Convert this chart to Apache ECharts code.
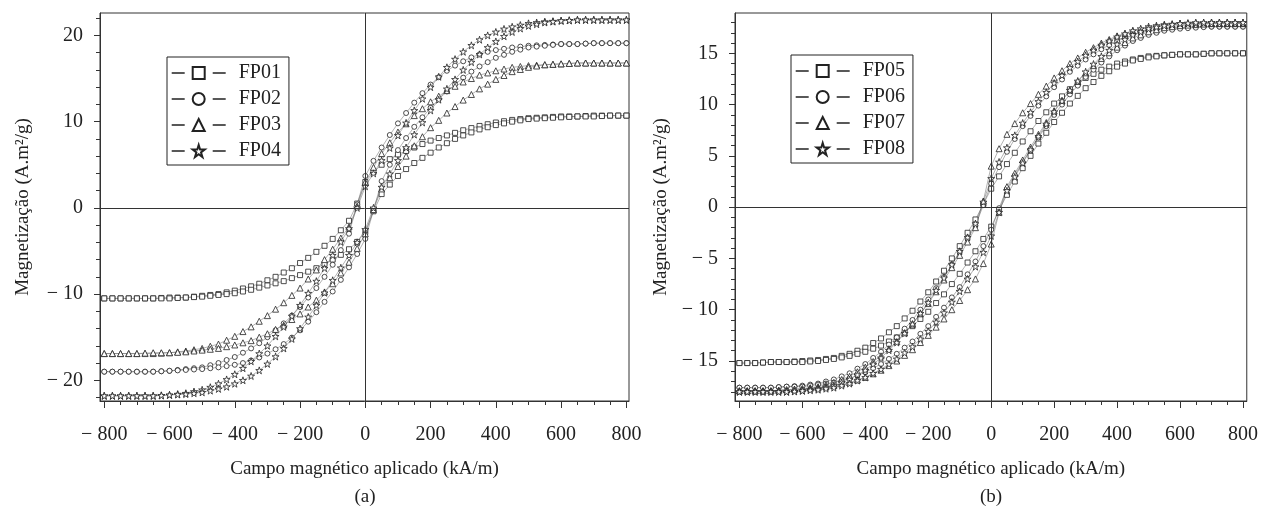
<!DOCTYPE html>
<html>
<head>
<meta charset="utf-8">
<script src="https://cdn.jsdelivr.net/npm/echarts@6/dist/echarts.min.js"></script>
<style>
html,body{margin:0;padding:0;background:#fff;}
#c{width:1261px;height:510px;}
</style>
</head>
<body>
<div id="c"></div>
<script>
// ---------- DATA ----------
// Applied field (kA/m): descending branch and ascending branch
const hDown = [800,775,750,725,700,675,650,625,600,575,550,525,500,475,450,425,400,375,350,325,300,275,250,225,200,175,150,125,100,75,50,25,0,-25,-50,-75,-100,-125,-150,-175,-200,-225,-250,-275,-300,-325,-350,-375,-400,-425,-450,-475,-500,-525,-550,-575,-600,-625,-650,-675,-700,-725,-750,-775,-800];
const hUp = [-800,-775,-750,-725,-700,-675,-650,-625,-600,-575,-550,-525,-500,-475,-450,-425,-400,-375,-350,-325,-300,-275,-250,-225,-200,-175,-150,-125,-100,-75,-50,-25,0,25,50,75,100,125,150,175,200,225,250,275,300,325,350,375,400,425,450,475,500,525,550,575,600,625,650,675,700,725,750,775,800];

// Panel (a)
const fp01Down = [10.7,10.7,10.7,10.7, 10.7,10.65,10.6,10.6, 10.6,10.55,10.5,10.45, 10.4,10.3,10.2,10.05, 9.9,9.7,9.5,9.25, 9.0,8.7,8.4,8.1, 7.8,7.4,7.0,6.6, 6.2,5.65,5.0,4.15, 3.0,0.5,-1.5,-2.6, -3.6,-4.4,-5.1,-5.8, -6.4,-7.0,-7.5,-8.0, -8.4,-8.8,-9.1,-9.35, -9.6,-9.8,-10.0,-10.1, -10.2,-10.3,-10.4,-10.4, -10.4,-10.45,-10.5,-10.5, -10.5,-10.5,-10.5,-10.5, -10.5];
const fp01Up = [-10.5,-10.5,-10.5,-10.5, -10.5,-10.5,-10.5,-10.5, -10.5,-10.45,-10.4,-10.35, -10.3,-10.2,-10.1,-10.0, -9.9,-9.7,-9.5,-9.25, -9.0,-8.75,-8.5,-8.15, -7.8,-7.4,-7.0,-6.5, -6.0,-5.45,-4.8,-3.95, -2.8,-0.4,1.6,2.7, 3.7,4.5,5.2,5.8, 6.4,7.0,7.5,8.0, 8.4,8.75,9.1,9.35, 9.6,9.8,10.0,10.15, 10.3,10.35,10.4,10.45, 10.5,10.55,10.6,10.6, 10.6,10.65,10.7,10.7, 10.7];
const fp02Down = [19.1,19.1,19.1,19.1, 19.1,19.05,19.0,19.0, 19.0,18.95,18.9,18.85, 18.8,18.7,18.6,18.45, 18.3,18.1,17.8,17.45, 17.0,16.5,15.9,15.15, 14.3,13.3,12.2,11.0, 9.8,8.45,7.0,5.45, 3.7,0.4,-3.0,-4.9, -6.6,-8.0,-9.3,-10.4, -11.5,-12.5,-13.4,-14.2, -15.0,-15.7,-16.3,-16.8, -17.3,-17.65,-18.0,-18.25, -18.5,-18.6,-18.7,-18.8, -18.9,-18.95,-19.0,-19.0, -19.0,-19.0,-19.0,-19.0, -19.0];
const fp02Up = [-19.0,-19.0,-19.0,-19.0, -19.0,-19.0,-19.0,-18.95, -18.9,-18.85,-18.8,-18.75, -18.7,-18.6,-18.5,-18.35, -18.2,-18.0,-17.7,-17.35, -16.9,-16.4,-15.8,-15.05, -14.2,-13.2,-12.1,-10.9, -9.7,-8.35,-6.9,-5.35, -3.6,-0.3,3.1,5.0, 6.7,8.1,9.4,10.5, 11.6,12.6,13.5,14.3, 15.1,15.8,16.4,16.9, 17.4,17.75,18.1,18.35, 18.6,18.7,18.8,18.9, 19.0,19.0,19.0,19.05, 19.1,19.1,19.1,19.1, 19.1];
const fp03Down = [16.8,16.8,16.8,16.8, 16.8,16.8,16.8,16.75, 16.7,16.65,16.6,16.55, 16.5,16.4,16.3,16.1, 15.9,15.65,15.4,15.0, 14.6,14.1,13.6,12.95, 12.3,11.5,10.7,9.75, 8.8,7.55,6.3,4.7, 3.0,0.2,-2.2,-3.5, -4.8,-6.0,-7.2,-8.25, -9.3,-10.15,-11.0,-11.75, -12.5,-13.15,-13.8,-14.35, -14.9,-15.35,-15.8,-16.05, -16.3,-16.45,-16.6,-16.7, -16.8,-16.85,-16.9,-16.9, -16.9,-16.9,-16.9,-16.9, -16.9];
const fp03Up = [-16.9,-16.9,-16.9,-16.9, -16.9,-16.85,-16.8,-16.8, -16.8,-16.75,-16.7,-16.6, -16.5,-16.4,-16.3,-16.1, -15.9,-15.65,-15.4,-15.0, -14.6,-14.1,-13.6,-12.95, -12.3,-11.5,-10.7,-9.75, -8.8,-7.55,-6.3,-4.7, -3.0,-0.2,2.2,3.5, 4.8,6.0,7.2,8.25, 9.3,10.15,11.0,11.75, 12.5,13.15,13.8,14.35, 14.9,15.35,15.8,16.05, 16.3,16.45,16.6,16.65, 16.7,16.75,16.8,16.8, 16.8,16.8,16.8,16.8, 16.8];
const fp04Down = [21.8,21.8,21.8,21.8, 21.8,21.8,21.8,21.75, 21.7,21.65,21.6,21.5, 21.4,21.2,21.0,20.75, 20.4,20.0,19.5,18.85, 18.1,17.25,16.3,15.2, 14.0,12.65,11.3,9.85, 8.4,6.95,5.5,4.0, 2.5,0.0,-2.4,-3.95, -5.5,-7.0,-8.5,-9.9, -11.3,-12.55,-13.8,-14.9, -16.0,-16.9,-17.8,-18.6, -19.3,-19.9,-20.4,-20.8, -21.1,-21.3,-21.5,-21.6, -21.7,-21.75,-21.8,-21.8, -21.8,-21.8,-21.8,-21.8, -21.8];
const fp04Up = [-21.8,-21.8,-21.8,-21.8, -21.8,-21.8,-21.8,-21.75, -21.7,-21.65,-21.6,-21.5, -21.4,-21.2,-21.0,-20.75, -20.4,-20.0,-19.5,-18.85, -18.1,-17.25,-16.3,-15.2, -14.0,-12.65,-11.3,-9.85, -8.4,-6.95,-5.5,-4.0, -2.5,0.0,2.4,3.95, 5.5,7.0,8.5,9.9, 11.3,12.55,13.8,14.9, 16.0,16.9,17.8,18.6, 19.3,19.9,20.4,20.8, 21.1,21.3,21.5,21.6, 21.7,21.75,21.8,21.8, 21.8,21.8,21.8,21.8, 21.8];

// Panel (b)
const fp05Down = [15.0,15.0,15.0,15.0, 15.0,14.95,14.9,14.9, 14.9,14.85,14.8,14.75, 14.7,14.55,14.4,14.2, 14.0,13.7,13.4,13.0, 12.6,12.05,11.5,10.8, 10.1,9.25,8.4,7.4, 6.4,5.3,4.2,3.0, 1.8,0.3,-1.2,-2.5, -3.8,-5.0,-6.2,-7.25, -8.3,-9.2,-10.1,-10.85, -11.6,-12.2,-12.8,-13.25, -13.7,-14.0,-14.3,-14.5, -14.7,-14.8,-14.9,-14.95, -15.0,-15.05,-15.1,-15.1, -15.1,-15.15,-15.2,-15.2, -15.2];
const fp05Up = [-15.2,-15.2,-15.2,-15.15, -15.1,-15.1,-15.1,-15.1, -15.1,-15.05,-15.0,-14.9, -14.8,-14.65,-14.5,-14.3, -14.1,-13.8,-13.5,-13.1, -12.7,-12.15,-11.6,-10.9, -10.2,-9.35,-8.5,-7.5, -6.5,-5.4,-4.3,-3.1, -1.9,-0.3,1.2,2.5, 3.8,5.0,6.2,7.25, 8.3,9.2,10.1,10.85, 11.6,12.2,12.8,13.25, 13.7,14.0,14.3,14.45, 14.6,14.7,14.8,14.85, 14.9,14.9,14.9,14.95, 15.0,15.0,15.0,15.0, 15.0];
const fp06Down = [17.6,17.6,17.6,17.6, 17.6,17.6,17.6,17.55, 17.5,17.45,17.4,17.3, 17.2,17.0,16.8,16.5, 16.2,15.8,15.4,14.9, 14.4,13.8,13.2,12.45, 11.7,10.8,9.9,8.9, 7.9,6.65,5.4,3.9, 2.3,0.2,-1.8,-3.1, -4.4,-5.6,-6.8,-7.9, -9.0,-10.0,-11.0,-11.85, -12.7,-13.4,-14.1,-14.7, -15.3,-15.75,-16.2,-16.5, -16.8,-17.0,-17.2,-17.3, -17.4,-17.45,-17.5,-17.55, -17.6,-17.6,-17.6,-17.6, -17.6];
const fp06Up = [-17.6,-17.6,-17.6,-17.6, -17.6,-17.55,-17.5,-17.5, -17.5,-17.4,-17.3,-17.2, -17.1,-16.9,-16.7,-16.4, -16.1,-15.7,-15.3,-14.8, -14.3,-13.7,-13.1,-12.35, -11.6,-10.7,-9.8,-8.8, -7.8,-6.55,-5.3,-3.8, -2.2,-0.1,1.8,3.1, 4.4,5.6,6.8,7.9, 9.0,10.0,11.0,11.85, 12.7,13.4,14.1,14.7, 15.3,15.75,16.2,16.5, 16.8,17.0,17.2,17.3, 17.4,17.45,17.5,17.55, 17.6,17.6,17.6,17.6, 17.6];
const fp07Down = [17.9,17.9,17.9,17.9, 17.9,17.9,17.9,17.85, 17.8,17.75,17.7,17.6, 17.5,17.35,17.2,16.95, 16.7,16.35,16.0,15.55, 15.1,14.55,14.0,13.3, 12.6,11.8,11.0,10.1, 9.2,8.15,7.1,5.7, 4.0,0.6,-2.0,-3.4, -4.7,-5.9,-7.1,-8.25, -9.4,-10.4,-11.4,-12.25, -13.1,-13.8,-14.5,-15.05, -15.6,-16.05,-16.5,-16.8, -17.1,-17.3,-17.5,-17.6, -17.7,-17.75,-17.8,-17.85, -17.9,-17.9,-17.9,-17.9, -17.9];
const fp07Up = [-17.9,-17.9,-17.9,-17.9, -17.9,-17.85,-17.8,-17.75, -17.7,-17.65,-17.6,-17.5, -17.4,-17.25,-17.1,-16.85, -16.6,-16.25,-15.9,-15.45, -15.0,-14.45,-13.9,-13.2, -12.5,-11.7,-10.9,-10.0, -9.1,-8.05,-7.0,-5.5, -3.6,-0.5,2.0,3.3, 4.6,5.85,7.1,8.25, 9.4,10.4,11.4,12.25, 13.1,13.8,14.5,15.05, 15.6,16.05,16.5,16.8, 17.1,17.3,17.5,17.6, 17.7,17.75,17.8,17.85, 17.9,17.9,17.9,17.9, 17.9];
const fp08Down = [18.0,18.0,18.0,18.0, 18.0,17.95,17.9,17.9, 17.9,17.85,17.8,17.7, 17.6,17.4,17.2,16.9, 16.6,16.2,15.8,15.3, 14.8,14.2,13.6,12.85, 12.1,11.2,10.3,9.25, 8.2,7.0,5.8,4.4, 2.8,0.5,-1.6,-2.95, -4.3,-5.6,-6.9,-8.1, -9.3,-10.35,-11.4,-12.3, -13.2,-13.95,-14.7,-15.3, -15.9,-16.35,-16.8,-17.1, -17.4,-17.55,-17.7,-17.8, -17.9,-17.95,-18.0,-18.0, -18.0,-18.0,-18.0,-18.0, -18.0];
const fp08Up = [-18.0,-18.0,-18.0,-18.0, -18.0,-18.0,-18.0,-17.95, -17.9,-17.85,-17.8,-17.7, -17.6,-17.4,-17.2,-16.9, -16.6,-16.2,-15.8,-15.3, -14.8,-14.2,-13.6,-12.85, -12.1,-11.2,-10.3,-9.25, -8.2,-7.0,-5.8,-4.4, -2.8,-0.5,1.6,2.95, 4.3,5.6,6.9,8.1, 9.3,10.35,11.4,12.3, 13.2,13.95,14.7,15.3, 15.9,16.35,16.8,17.1, 17.4,17.55,17.7,17.8, 17.9,17.95,18.0,18.0, 18.0,18.0,18.0,18.0, 18.0];

const namesA = ['FP01','FP02','FP03','FP04'];
const namesB = ['FP05','FP06','FP07','FP08'];

// Tick values
const xMajor = [-800,-600,-400,-200,0,200,400,600,800];
const xMinor = [-800,-750,-700,-650,-600,-550,-500,-450,-400,-350,-300,-250,-200,-150,-100,-50,0,50,100,150,200,250,300,350,400,450,500,550,600,650,700,750,800];
const yMajorA = [-20,-10,0,10,20];
const yMinorA = [-22,-20,-18,-16,-14,-12,-10,-8,-6,-4,-2,0,2,4,6,8,10,12,14,16,18,20,22];
const yMajorB = [-15,-10,-5,0,5,10,15];
const yMinorB = [-18,-17,-16,-15,-14,-13,-12,-11,-10,-9,-8,-7,-6,-5,-4,-3,-2,-1,0,1,2,3,4,5,6,7,8,9,10,11,12,13,14,15,16,17,18];

const xTitle = 'Campo magnético aplicado (kA/m)';
const yTitle = 'Magnetização (A.m\u00B2/g)';

// ---------- CHART ----------
const FONT = 'Liberation Serif';
const INK = '#222';
const AX = '#333';
const STAR = 'path://M50,2 L61.2,36.3 L97.6,36.3 L68.2,57.5 L79.4,91.8 L50,70.6 L20.6,91.8 L31.8,57.5 L2.4,36.3 L38.8,36.3 Z';

function fmt(v){ return v < 0 ? '\u2212 ' + Math.abs(v) : String(v); }
function pairs(hs, ms){ return hs.map(function(h,i){ return [h, ms[i]]; }); }
function loop(dn, up){ return pairs(hDown, dn).concat(pairs(hUp, up)); }

function xAxes(g, min, max){
  return [{
    type:'value', gridIndex:g, min:min, max:max, position:'bottom',
    axisLine:{show:true, onZero:false, lineStyle:{color:AX, width:1}},
    axisTick:{show:true, length:7, customValues:xMajor, lineStyle:{color:AX, width:1}},
    axisLabel:{customValues:xMajor, formatter:fmt, margin:24, fontFamily:FONT, fontSize:20, color:INK},
    splitLine:{show:false},
    name:xTitle, nameLocation:'middle', nameGap:59,
    nameTextStyle:{fontFamily:FONT, fontSize:19, color:INK}
  },{
    type:'value', gridIndex:g, min:min, max:max, position:'bottom',
    axisLine:{show:false, onZero:false},
    axisTick:{show:true, length:4, customValues:xMinor, lineStyle:{color:AX, width:1}},
    axisLabel:{show:false}, splitLine:{show:false}
  }];
}
function yAxes(g, min, max, major, minor, gap){
  return [{
    type:'value', gridIndex:g, min:min, max:max, position:'left',
    axisLine:{show:true, onZero:false, lineStyle:{color:AX, width:1}},
    axisTick:{show:true, length:6, customValues:major, lineStyle:{color:AX, width:1}},
    axisLabel:{customValues:major, formatter:fmt, margin:17, fontFamily:FONT, fontSize:20, color:INK},
    splitLine:{show:false},
    name:yTitle, nameLocation:'middle', nameGap:gap,
    nameTextStyle:{fontFamily:FONT, fontSize:19, color:INK}
  },{
    type:'value', gridIndex:g, min:min, max:max, position:'left',
    axisLine:{show:false, onZero:false},
    axisTick:{show:true, length:4, customValues:minor, lineStyle:{color:AX, width:1}},
    axisLabel:{show:false}, splitLine:{show:false}
  }];
}

const symbols = ['rect','circle','triangle',STAR];
const sizes = [5,5,6,7];

function mkSeries(name, idx, axisIdx, data, withMark){
  const s = {
    type:'line', name:name, xAxisIndex:axisIdx, yAxisIndex:axisIdx, data:data,
    symbol:symbols[idx], symbolSize:sizes[idx], showSymbol:true,
    lineStyle:{width:0.5, color:'#666'},
    itemStyle:{color:'#fff', borderColor:INK, borderWidth:0.8},
    emphasis:{disabled:true}, silent:true, z:3
  };
  if (withMark) {
    s.markLine = {
      silent:true, symbol:'none', label:{show:false}, animation:false,
      lineStyle:{color:AX, width:1, type:'solid'},
      emphasis:{disabled:true},
      data:[{xAxis:0},{yAxis:0}]
    };
  }
  return s;
}

const legendCommon = {
  orient:'vertical', itemWidth:54, itemHeight:15, itemGap:6,
  padding:[6,8,4,4], borderColor:INK, borderWidth:1, backgroundColor:'#fff',
  selectedMode:false,
  textStyle:{fontFamily:FONT, fontSize:20, color:INK, padding:[0,0,0,8]},
  lineStyle:{width:1.4, color:INK, type:[13,28]}
};

const option = {
  animation:false,
  backgroundColor:'#fff',
  grid:[
    {left:100, top:13, width:529, height:388, show:true, borderColor:AX, borderWidth:1, backgroundColor:'transparent'},
    {left:735, top:13, width:513, height:388, show:true, borderColor:AX, borderWidth:1, backgroundColor:'transparent'}
  ],
  xAxis: xAxes(0, -813, 808).concat(xAxes(1, -814, 812)),
  yAxis: yAxes(0, -22.4, 22.6, yMajorA, yMinorA, 67).concat(yAxes(1, -18.9, 18.93, yMajorB, yMinorB, 64)),
  legend:[
    Object.assign({}, legendCommon, {data:namesA, left:167, top:57}),
    Object.assign({}, legendCommon, {data:namesB, left:791, top:55})
  ],
  series:[
    mkSeries(namesA[0],0,0,loop(fp01Down,fp01Up),true),
    mkSeries(namesA[1],1,0,loop(fp02Down,fp02Up),false),
    mkSeries(namesA[2],2,0,loop(fp03Down,fp03Up),false),
    mkSeries(namesA[3],3,0,loop(fp04Down,fp04Up),false),
    mkSeries(namesB[0],0,2,loop(fp05Down,fp05Up),true),
    mkSeries(namesB[1],1,2,loop(fp06Down,fp06Up),false),
    mkSeries(namesB[2],2,2,loop(fp07Down,fp07Up),false),
    mkSeries(namesB[3],3,2,loop(fp08Down,fp08Up),false)
  ],
  graphic:[
    {type:'text', x:365, y:497, style:{text:'(a)', font:'19px "Liberation Serif"', fill:INK, align:'center', verticalAlign:'middle'}},
    {type:'text', x:991, y:497, style:{text:'(b)', font:'19px "Liberation Serif"', fill:INK, align:'center', verticalAlign:'middle'}}
  ]
};

const chart = echarts.init(document.getElementById('c'), null, {renderer:'canvas'});
chart.setOption(option);
</script>
</body>
</html>
